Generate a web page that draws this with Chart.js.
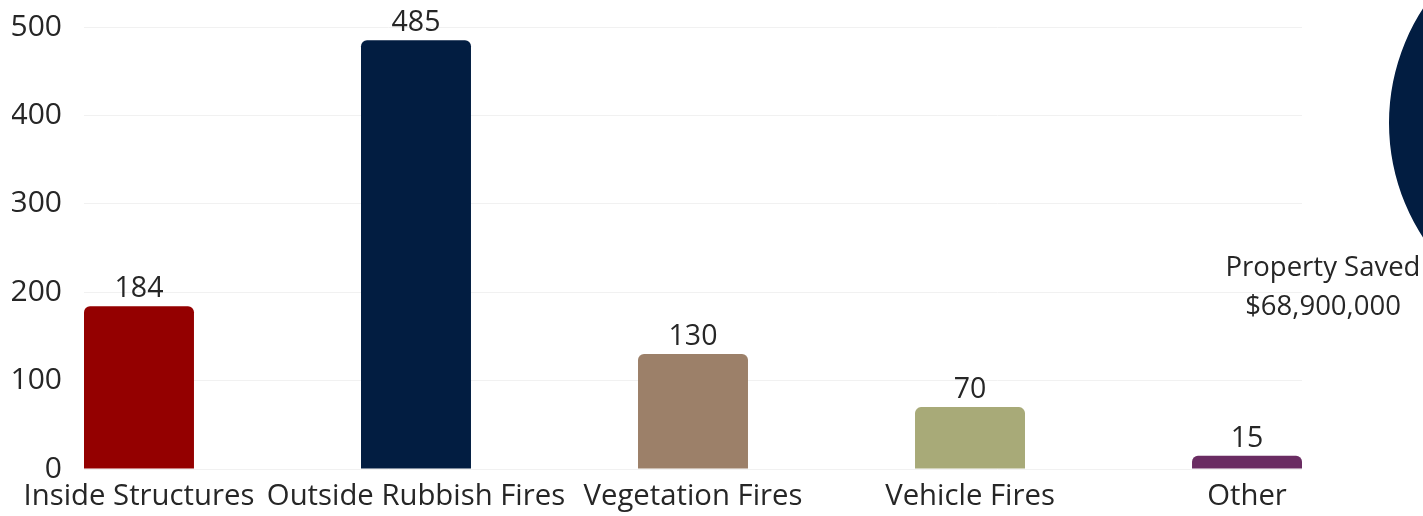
<!DOCTYPE html>
<html>
<head>
<meta charset="utf-8">
<script src="https://cdn.jsdelivr.net/npm/chart.js@4.4.1/dist/chart.umd.min.js"></script>
<style>
  html, body { margin:0; padding:0; background:#fff; overflow:hidden; }
  #wrap { position:relative; width:1423px; height:516px; overflow:hidden; }
  #bars { position:absolute; left:0; top:0; }
  #circle { position:absolute; left:1389px; top:-87px; }
  #saved { position:absolute; left:1203px; top:246px; width:240px; text-align:center;
           font-family:"Open Sans", sans-serif; font-size:27.5px; line-height:39px; color:#262626; }
</style>
</head>
<body>
<div id="wrap">
  <canvas id="bars" width="1423" height="516"></canvas>
  <canvas id="circle" width="420" height="420"></canvas>
  <div id="saved">Property Saved<br>$68,900,000</div>
</div>
<script>
// fire incident counts
var categories = ["Inside Structures", "Outside Rubbish Fires", "Vegetation Fires", "Vehicle Fires", "Other"];
var counts = [184, 485, 130, 70, 15];
var barColors = ["#940000", "#021d41", "#9c8069", "#a8aa78", "#6a2c62"];
var yTicks = [0, 100, 200, 300, 400, 500];
var propertySaved = [68900000];

var barFrac = 0.397;
var half = barFrac / 2;

var points = [];
for (var i = 0; i < counts.length; i++) {
    points.push({x: i, y: counts[i]});
}

var valueLabels = {
    id: 'valueLabels',
    afterDatasetsDraw: function(chart) {
        var ctx = chart.ctx;
        var meta = chart.getDatasetMeta(0);
        ctx.save();
        ctx.font = '28.5px "Open Sans"';
        ctx.fillStyle = '#262626';
        ctx.textAlign = 'center';
        ctx.textBaseline = 'alphabetic';
        meta.data.forEach(function(el, idx) {
            ctx.fillText(String(counts[idx]), el.x, el.y - 9);
        });
        ctx.restore();
    }
};

new Chart(document.getElementById("bars"), {
    type: 'bar',
    data: {
        datasets: [{
            data: points,
            backgroundColor: barColors,
            borderRadius: 6,
            borderSkipped: 'start',
            categoryPercentage: 1,
            barPercentage: barFrac
        }]
    },
    options: {
        responsive: false,
        animation: false,
        layout: { padding: { left: 12, right: 121, top: 27, bottom: 0 } },
        plugins: { legend: { display: false }, tooltip: { enabled: false } },
        scales: {
            x: {
                type: 'linear',
                offset: false,
                min: -half,
                max: categories.length - 1 + half,
                afterBuildTicks: function(axis) {
                    axis.ticks = categories.map(function(c, k) { return {value: k}; });
                },
                afterFit: function(axis) { axis.height = 47; axis.paddingLeft = 0; axis.paddingRight = 0; },
                grid: { display: false, drawTicks: false },
                border: { display: false },
                ticks: {
                    autoSkip: false,
                    maxRotation: 0,
                    minRotation: 0,
                    padding: 10,
                    color: '#262626',
                    font: { family: 'Open Sans', size: 29.3 },
                    callback: function(v) { return categories[v]; }
                }
            },
            y: {
                min: 0,
                max: 500,
                afterBuildTicks: function(axis) {
                    axis.ticks = yTicks.map(function(t) { return {value: t}; });
                },
                afterFit: function(axis) { axis.width = 72; axis.paddingTop = 0; axis.paddingBottom = 0; },
                grid: { color: '#f1f1f1', drawTicks: false },
                border: { display: false },
                ticks: {
                    padding: 22,
                    color: '#262626',
                    font: { family: 'Open Sans', size: 30 }
                }
            }
        }
    },
    plugins: [valueLabels]
});

new Chart(document.getElementById("circle"), {
    type: 'pie',
    data: {
        labels: ["Property Saved"],
        datasets: [{ data: propertySaved, backgroundColor: ["#021d41"], borderWidth: 0 }]
    },
    options: {
        responsive: false,
        animation: false,
        layout: { padding: 0 },
        plugins: { legend: { display: false }, tooltip: { enabled: false } }
    }
});
</script>
</body>
</html>
